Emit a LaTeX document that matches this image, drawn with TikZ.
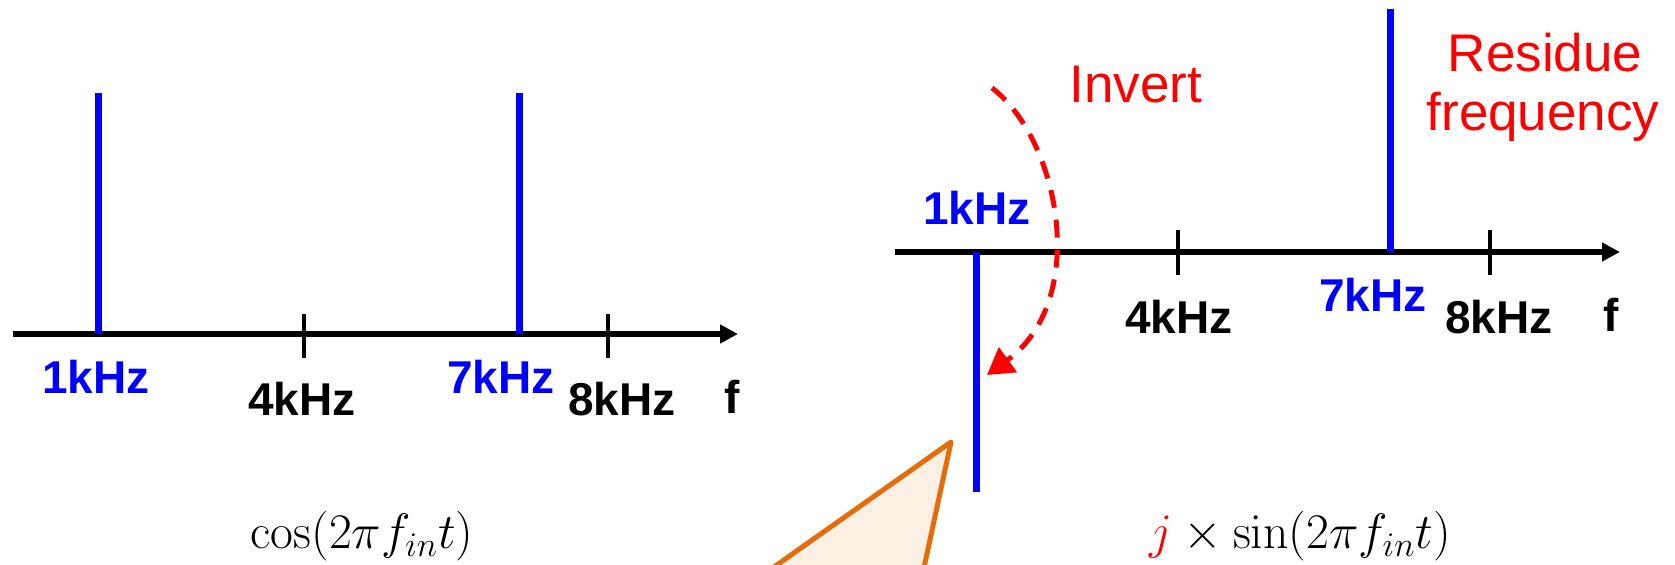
\documentclass[tikz,border=0pt]{standalone}
\usepackage[no-math]{fontspec}
\newfontfamily\arialfont{Liberation Sans}
\usepackage{tikz}
\usetikzlibrary{arrows.meta}

\definecolor{calloutline}{RGB}{228,108,10}
\definecolor{calloutfill}{RGB}{252,239,227}

\begin{document}
\begin{tikzpicture}[x=0.5pt, y=-0.5pt, line join=round,
  freqlbl/.style={anchor=base, font=\arialfont\bfseries\fontsize{23}{27}\selectfont},
  notelbl/.style={anchor=base, text=red, font=\arialfont\fontsize{26.5}{30}\selectfont},
  eqlbl/.style={anchor=base, font=\fontsize{27}{32}\selectfont},
  axisline/.style={line width=3pt, -{Triangle[length=9pt, width=9pt]}},
  spike/.style={line width=3.5pt, blue},
  tickmark/.style={line width=1.75pt}]

\useasboundingbox (0,0) rectangle (1675,565);
\clip (0,0) rectangle (1675,565);

% Left spectrum
\coordinate (lo) at (13,334);
\coordinate (le) at (738,334);
\coordinate (l1) at (98,334);
\coordinate (l1t) at (98,93);
\coordinate (l7) at (519,334);
\coordinate (l7t) at (519,93);

\draw[axisline] (lo) -- (le);
\draw[tickmark] (304,314) -- (304,358);
\draw[tickmark] (608,314) -- (608,358);
\draw[spike] (l1) -- (l1t);
\draw[spike] (l7) -- (l7t);

\node[freqlbl, text=blue] (l1lbl) at (96,394) {1kHz};
\node[freqlbl] (l4lbl) at (302,416) {4kHz};
\node[freqlbl, text=blue] (l7lbl) at (501,394) {7kHz};
\node[freqlbl] (l8lbl) at (622,416) {8kHz};
\node[freqlbl] (lflbl) at (732,414) {f};
\node[eqlbl] (cosin) at (362,549) {$\cos(2\pi f_{in}t)$};

% Right spectrum
\coordinate (ro) at (895,252);
\coordinate (re) at (1620,252);
\coordinate (r1) at (976,252);
\coordinate (r1b) at (976,492);
\coordinate (r7) at (1390,252);
\coordinate (r7t) at (1390,9);

\draw[axisline] (ro) -- (re);
\draw[tickmark] (1178,230) -- (1178,275);
\draw[tickmark] (1490,230) -- (1490,275);
\draw[spike] (r1) -- (r1b);
\draw[spike] (r7) -- (r7t);

\node[freqlbl, text=blue] (r1lbl) at (977,225) {1kHz};
\node[freqlbl] (r4lbl) at (1179,334) {4kHz};
\node[freqlbl, text=blue] (r7lbl) at (1373,312) {7kHz};
\node[freqlbl] (r8lbl) at (1499,334) {8kHz};
\node[freqlbl] (rflbl) at (1611,332) {f};
\node[eqlbl] (sinin) at (1300,549) {$\textcolor{red}{j}\times\sin(2\pi f_{in}t)$};

% Inversion arrow
\coordinate (inv0) at (992,88);
\coordinate (inv1) at (987,375);
\draw[red, line width=2.5pt, dash pattern=on 9pt off 6pt,
  -{Triangle[length=13pt, width=15pt]}]
  (inv0) .. controls (1060,140) and (1090,300) .. (inv1);
\node[notelbl] (invlbl) at (1136,103) {Invert};
\node[notelbl] (reslbl) at (1545,72) {Residue};
\node[notelbl] (freqlbl) at (1543,131) {frequency};

% Callout
\coordinate (ctip) at (951,442);
\coordinate (cl) at (740,591);
\coordinate (cr) at (919,591);
\fill[calloutfill] (cl) -- (ctip) -- (cr) -- cycle;
\draw[calloutline, line width=2.5pt] (cl) -- (ctip) -- (cr);

\end{tikzpicture}
\end{document}
